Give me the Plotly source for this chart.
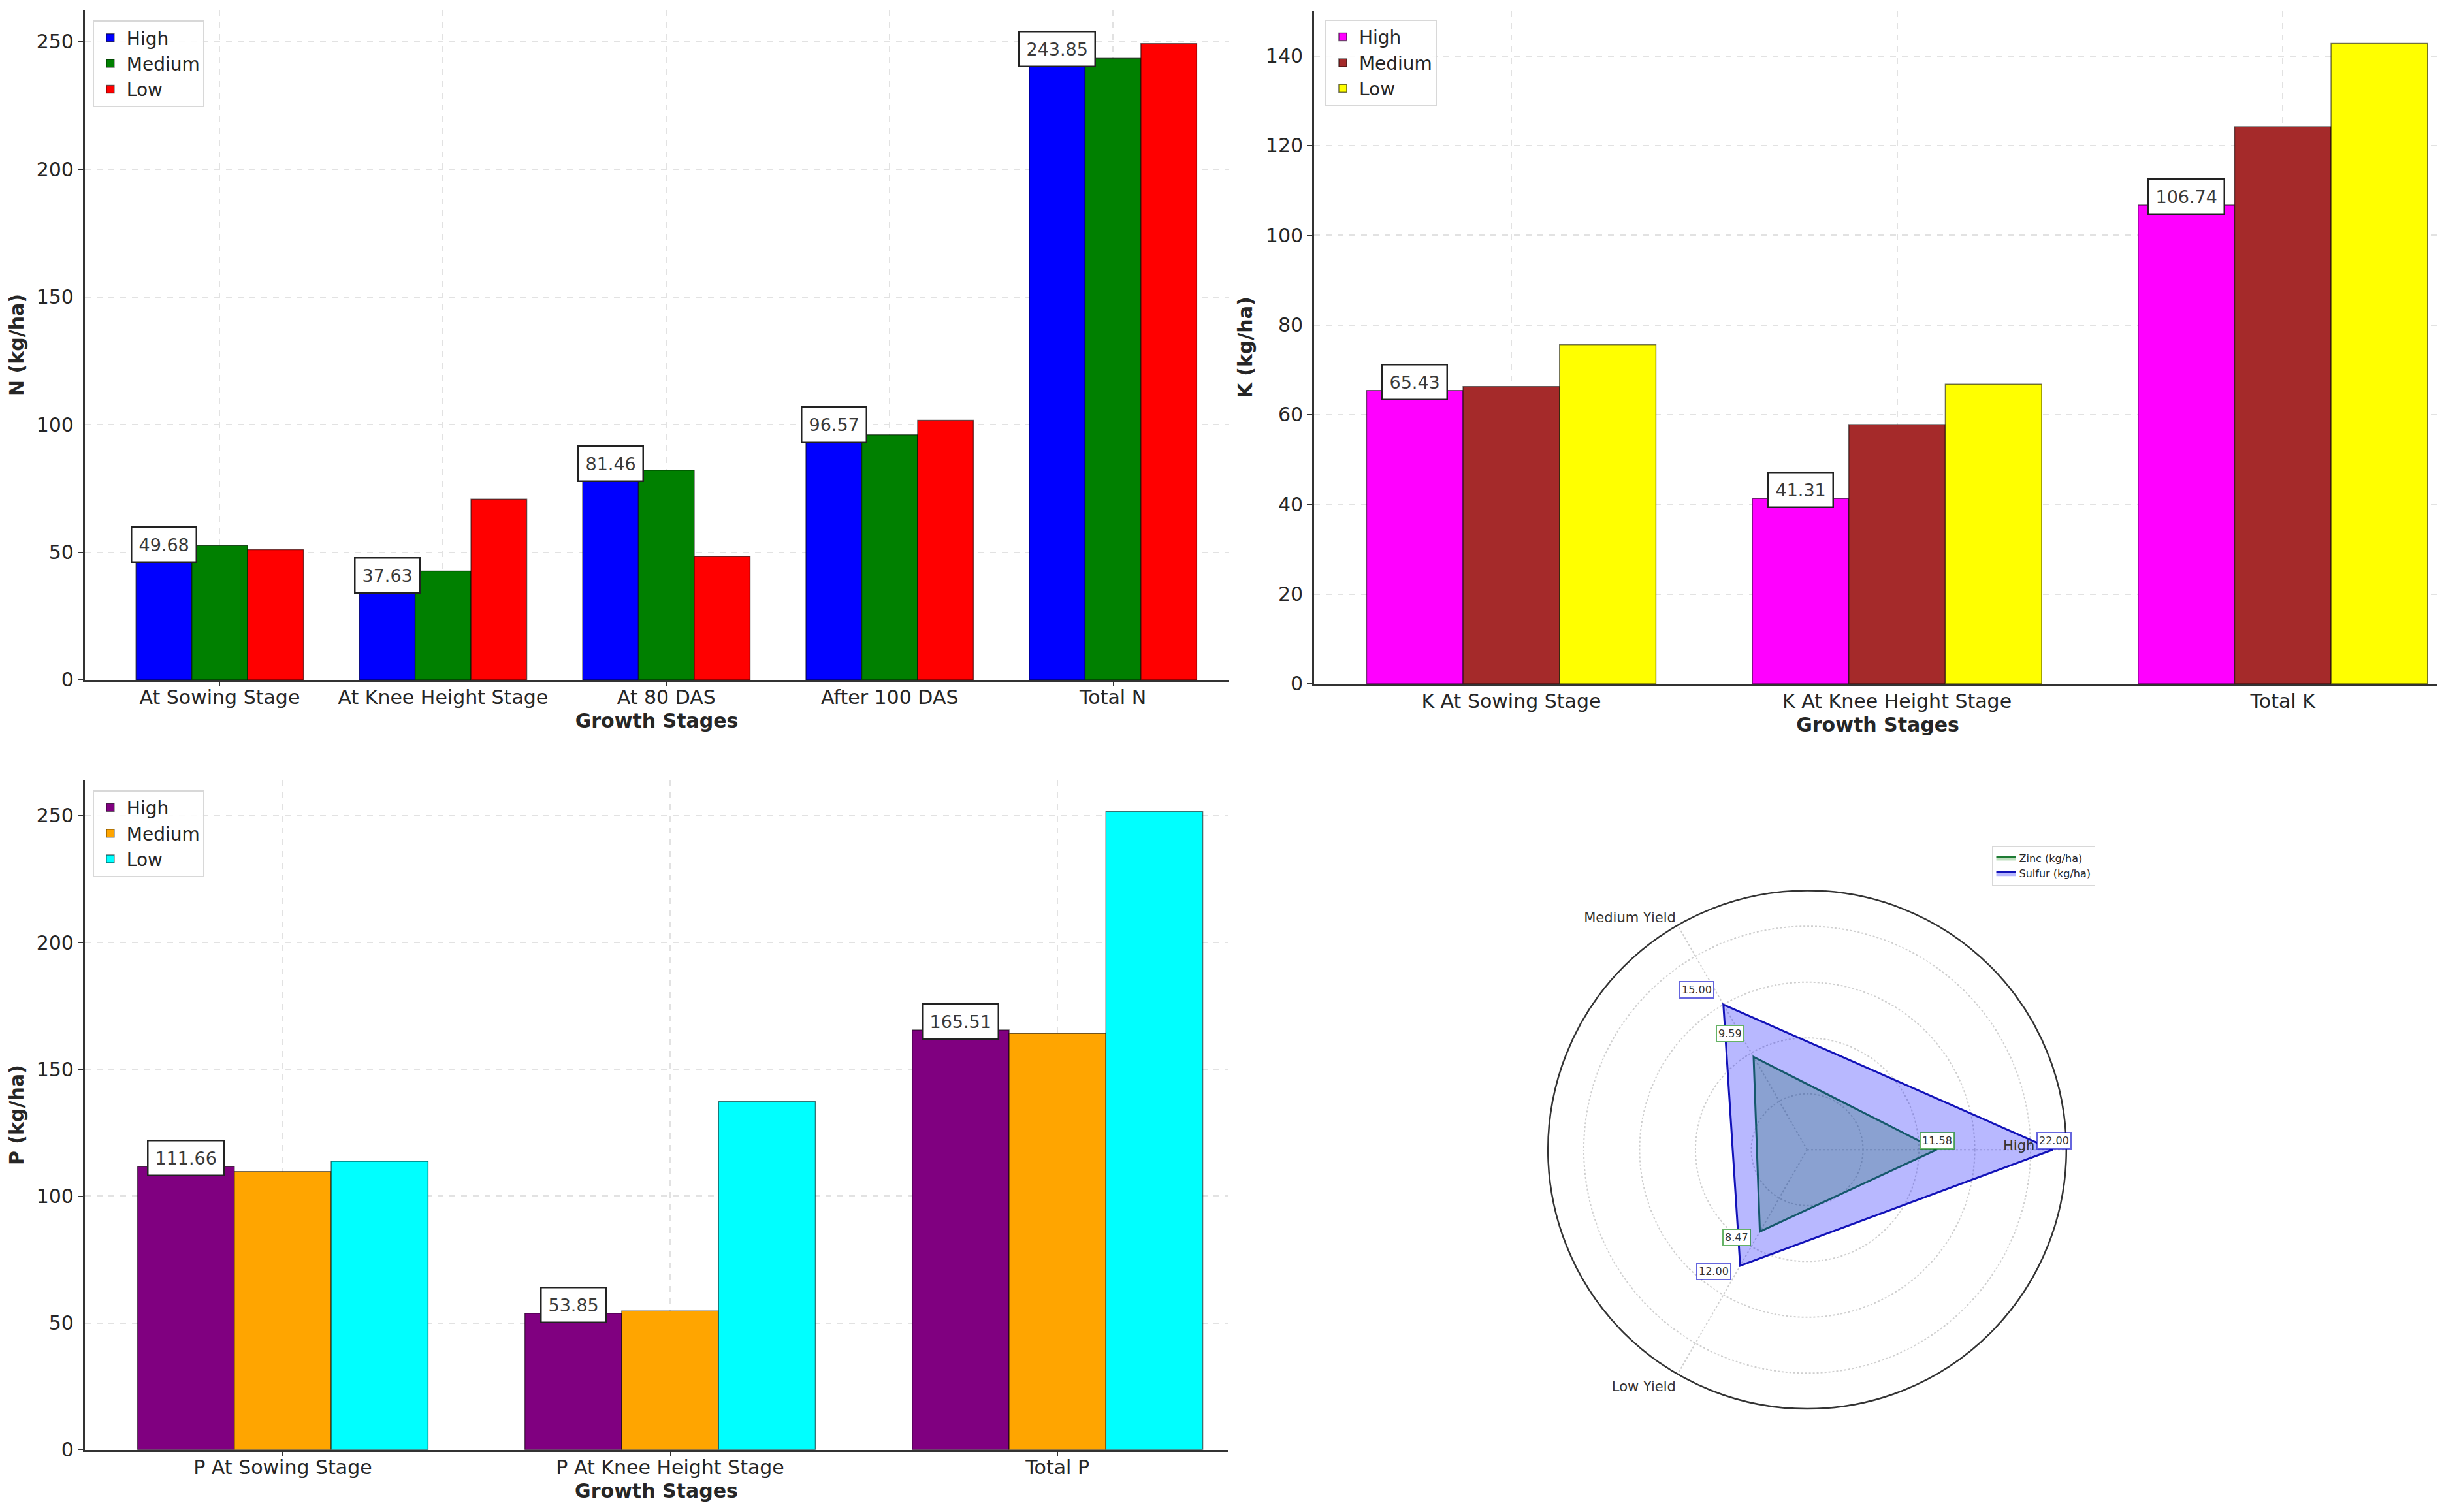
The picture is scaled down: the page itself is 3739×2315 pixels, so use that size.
import math
import plotly.graph_objects as go

# ---- data ----
levels = ['High', 'Medium', 'Low']

n_stages = ['At Sowing Stage', 'At Knee Height Stage', 'At 80 DAS', 'After 100 DAS', 'Total N']
n_high = [49.68, 37.63, 81.46, 96.57, 243.85]
n_medium = [52.6, 42.6, 82.2, 96.0, 243.5]
n_low = [51.0, 70.8, 48.3, 101.7, 249.2]

k_stages = ['K At Sowing Stage', 'K At Knee Height Stage', 'Total K']
k_high = [65.43, 41.31, 106.74]
k_medium = [66.3, 57.8, 124.2]
k_low = [75.6, 66.8, 142.8]

p_stages = ['P At Sowing Stage', 'P At Knee Height Stage', 'Total P']
p_high = [111.66, 53.85, 165.51]
p_medium = [109.7, 54.7, 164.2]
p_low = [113.8, 137.3, 251.7]

yield_levels = ['High Yield', 'Medium Yield', 'Low Yield']
zinc = [11.58, 9.59, 8.47]
sulfur = [22.00, 15.00, 12.00]

W, H = 3739, 2315
FONT = 'DejaVu Sans'
TXT = '#262626'

fig = go.Figure()


def add_bars(stages, series, colors, xa, ya, leg):
    for name, vals, col in zip(levels, series, colors):
        fig.add_trace(go.Bar(
            x=stages, y=vals, name=name,
            marker=dict(color=col, line=dict(color='rgba(0,0,0,0.55)', width=1.5)),
            xaxis=xa, yaxis=ya, legend=leg,
        ))
    # boxed value labels on the High bars
    for i, v in enumerate(series[0]):
        fig.add_annotation(
            x=i - 0.25, y=v, xref=xa, yref=ya, text=f'{v:.2f}',
            showarrow=False, yshift=13, yanchor='middle',
            font=dict(family=FONT, size=27, color='#3a3a3a'),
            bgcolor='white', bordercolor='#222', borderwidth=2.5, borderpad=10,
        )


add_bars(n_stages, [n_high, n_medium, n_low], ['blue', 'green', 'red'], 'x', 'y', 'legend')
add_bars(k_stages, [k_high, k_medium, k_low], ['magenta', 'brown', 'yellow'], 'x2', 'y2', 'legend2')
add_bars(p_stages, [p_high, p_medium, p_low], ['purple', 'orange', 'cyan'], 'x3', 'y3', 'legend3')

# ---- radar ----
theta_closed = yield_levels + yield_levels[:1]
fig.add_trace(go.Scatterpolar(
    r=zinc + zinc[:1], theta=theta_closed, name='Zinc (kg/ha)',
    fill='toself', fillcolor='rgba(0,128,0,0.25)',
    line=dict(color='#1e7b34', width=3), mode='lines', legend='legend4',
))
fig.add_trace(go.Scatterpolar(
    r=sulfur + sulfur[:1], theta=theta_closed, name='Sulfur (kg/ha)',
    fill='toself', fillcolor='rgba(0,0,255,0.28)',
    line=dict(color='#1212b8', width=3), mode='lines', legend='legend4',
))

pol_x = [0.6309, 0.8449]
pol_y = [0.0644, 0.4099]
rmax = 23.2
cx = (pol_x[0] + pol_x[1]) / 2 * W
cy = (pol_y[0] + pol_y[1]) / 2 * H
R = (pol_x[1] - pol_x[0]) * W / 2

# the "High" angular label sits just inside the ring, left of the tip
fig.add_annotation(
    x=(cx + 0.875 * R) / W, y=(cy + 6) / H, xref='paper', yref='paper',
    text='High', showarrow=False, xanchor='right', yanchor='middle',
    font=dict(family=FONT, size=21, color='#333'),
)
for vals, edge in [(zinc, 'rgba(0,128,0,0.6)'), (sulfur, 'rgba(0,0,200,0.6)')]:
    for k, v in enumerate(vals):
        a = math.radians(360 * k / len(vals))
        rp = (v + 1.5) / rmax * R
        fig.add_annotation(
            x=(cx + rp * math.cos(a)) / W, y=(cy + rp * math.sin(a)) / H,
            xref='paper', yref='paper', text=f'{v:.2f}', showarrow=False,
            font=dict(family=FONT, size=16, color='#333'),
            bgcolor='white', bordercolor=edge, borderwidth=2, borderpad=2,
        )

# ---- axes ----
grid = dict(showgrid=True, gridcolor='#e2e2e2', griddash='dash', gridwidth=1.5)
xcommon = dict(type='category', showline=True, linecolor='#333', linewidth=3,
               ticks='outside', ticklen=6, tickcolor='#333', ticklabelstandoff=-8,
               tickfont=dict(family=FONT, size=30, color=TXT),
               title=dict(text='Growth Stages', standoff=10,
                          font=dict(family=FONT, size=30, color=TXT, weight='bold')),
               zeroline=False, **grid)
ycommon = dict(showline=True, linecolor='#333', linewidth=3,
               ticks='outside', ticklen=8, tickcolor='#333',
               tickfont=dict(family=FONT, size=30, color=TXT),
               zeroline=False, **grid)


def ytitle(t):
    return dict(text=t, standoff=12, font=dict(family=FONT, size=30, color=TXT, weight='bold'))


legcommon = dict(font=dict(family=FONT, size=28, color=TXT), bgcolor='rgba(255,255,255,0.9)',
                 bordercolor='#d8d8d8', borderwidth=2, xanchor='left', yanchor='top',
                 tracegroupgap=0, itemwidth=40)

fig.update_layout(
    width=W, height=H, paper_bgcolor='white', plot_bgcolor='white',
    margin=dict(l=0, r=0, t=0, b=0),
    barmode='group', bargap=0.25, bargroupgap=0,
    font=dict(family=FONT, color=TXT),
    xaxis=dict(domain=[0.0326, 0.501], anchor='y', range=[-0.604, 4.518], **xcommon),
    yaxis=dict(domain=[0.5503, 0.9965], anchor='x', range=[0, 262.2], dtick=50,
               title=ytitle('N (kg/ha)'), **ycommon),
    xaxis2=dict(domain=[0.536, 0.9976], anchor='y2', range=[-0.511, 2.411], **xcommon),
    yaxis2=dict(domain=[0.5477, 0.9961], anchor='x2', range=[0, 150], dtick=20,
                title=ytitle('K (kg/ha)'), **ycommon),
    xaxis3=dict(domain=[0.0326, 0.5007], anchor='y3', range=[-0.511, 2.44], **xcommon),
    yaxis3=dict(domain=[0.0371, 0.4834], anchor='x3', range=[0, 264], dtick=50,
                title=ytitle('P (kg/ha)'), **ycommon),
    legend=dict(x=0.0358, y=0.990, **legcommon),
    legend2=dict(x=0.5405, y=0.9905, **legcommon),
    legend3=dict(x=0.0358, y=0.4769, **legcommon),
    legend4=dict(x=0.8136, y=0.4397, xanchor='left', yanchor='top',
                 font=dict(family=FONT, size=16, color=TXT), bgcolor='white',
                 bordercolor='#d8d8d8', borderwidth=1.5),
    polar=dict(
        domain=dict(x=pol_x, y=pol_y), bgcolor='white',
        radialaxis=dict(range=[0, rmax], tickvals=[5, 10, 15, 20], showticklabels=False,
                        ticks='', showline=False, gridcolor='#cfcfcf', griddash='dot', gridwidth=1.5),
        angularaxis=dict(direction='counterclockwise', rotation=0, ticks='',
                         tickmode='array', tickvals=yield_levels, ticktext=['', 'Medium Yield', 'Low Yield'],
                         linecolor='#333', linewidth=2.5, gridcolor='#cfcfcf', griddash='dot', gridwidth=1.5,
                         tickfont=dict(family=FONT, size=21, color='#333')),
    ),
)

fig.write_html('out.html')
